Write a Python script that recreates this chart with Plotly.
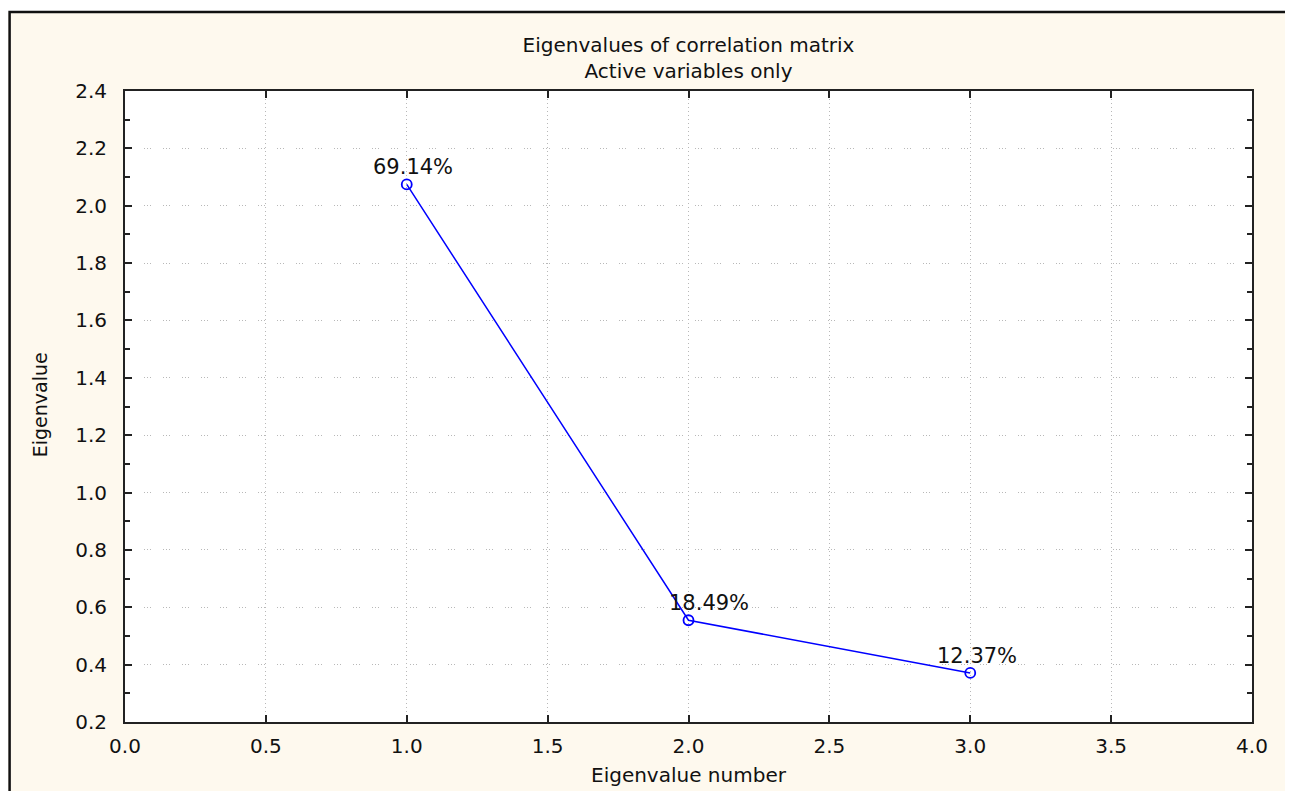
import plotly.graph_objects as go

# Data
eig_number = [1, 2, 3]
eigenvalues = [2.0742, 0.5547, 0.3711]
pct_labels = ["69.14%", "18.49%", "12.37%"]
label_xshift = [6, 20, 7]

x_ticks = [0.0, 0.5, 1.0, 1.5, 2.0, 2.5, 3.0, 3.5, 4.0]
y_ticks = [0.2, 0.4, 0.6, 0.8, 1.0, 1.2, 1.4, 1.6, 1.8, 2.0, 2.2, 2.4]

FONT = "DejaVu Sans, Liberation Sans, Arial, sans-serif"
CREAM = "#FEF9EE"
TXT = "#111111"

fig = go.Figure()
fig.add_trace(go.Scatter(
    x=eig_number, y=eigenvalues, mode="lines+markers",
    line=dict(color="#0000FF", width=1.5),
    marker=dict(symbol="circle-open", size=10, color="#0000FF", line=dict(width=1.8)),
    showlegend=False, hoverinfo="x+y",
))

for xv, yv, t, xs in zip(eig_number, eigenvalues, pct_labels, label_xshift):
    fig.add_annotation(x=xv, y=yv, text=t, showarrow=False, xref="x", yref="y",
                       yanchor="bottom", yshift=3, xshift=xs,
                       font=dict(family=FONT, size=21, color=TXT))

axis_common = dict(
    showline=True, linecolor="#222222", linewidth=2, mirror="ticks",
    ticks="inside", ticklen=7, tickwidth=2, tickcolor="#222222",
    showgrid=True, gridcolor="#B8B8B8", gridwidth=1,
    zeroline=False,
    tickfont=dict(family=FONT, size=20, color=TXT),
)

fig.update_xaxes(range=[0, 4], tickvals=x_ticks,
                 ticktext=[f"{v:.1f}" for v in x_ticks],
                 griddash="1px,3px",
                 ticklabelstandoff=5, **axis_common)
fig.update_yaxes(range=[0.2, 2.4], tickvals=y_ticks,
                 ticktext=[f"{v:.1f}" for v in y_ticks],
                 griddash="1px,2px,1px,2px,1px,12px",
                 ticklabelstandoff=12,
                 minor=dict(ticks="inside", ticklen=5, tickwidth=2, tickcolor="#222222",
                            dtick=0.1, tick0=0.2, showgrid=False),
                 **axis_common)

# Outer frame: white strips outside the framed box, and border line
fig.add_shape(type="rect", xref="paper", yref="paper",
              x0=-0.2, x1=1.1, y0=1.1252, y1=1.2, fillcolor="white", line_width=0, layer="below")
fig.add_shape(type="rect", xref="paper", yref="paper",
              x0=1.0320, x1=1.1, y0=-0.2, y1=1.2, fillcolor="white", line_width=0, layer="below")
fig.add_shape(type="rect", xref="paper", yref="paper",
              x0=-0.1024, x1=1.0320, y0=-0.13, y1=1.1252,
              line=dict(color="#111111", width=2.5), fillcolor="rgba(0,0,0,0)", layer="above")

# Axis titles
fig.add_annotation(text="Eigenvalue number", xref="paper", yref="paper", x=0.5, y=-0.0840,
                   yanchor="middle", showarrow=False,
                   font=dict(family=FONT, size=20, color=TXT))
fig.add_annotation(text="Eigenvalue", xref="paper", yref="paper", x=-0.0754, y=0.502,
                   xanchor="center", yanchor="middle", textangle=-90, showarrow=False,
                   font=dict(family=FONT, size=19, color=TXT))

fig.update_layout(
    width=1285, height=783,
    margin=dict(l=117, r=41, t=83, b=69, autoexpand=False),
    paper_bgcolor=CREAM, plot_bgcolor="white",
    title=dict(text="Eigenvalues of correlation matrix<br>Active variables only",
               x=0.5, xref="paper", xanchor="center", y=0.9432, yanchor="middle",
               font=dict(family=FONT, size=20, color=TXT)),
)

fig.write_html("out.html")
